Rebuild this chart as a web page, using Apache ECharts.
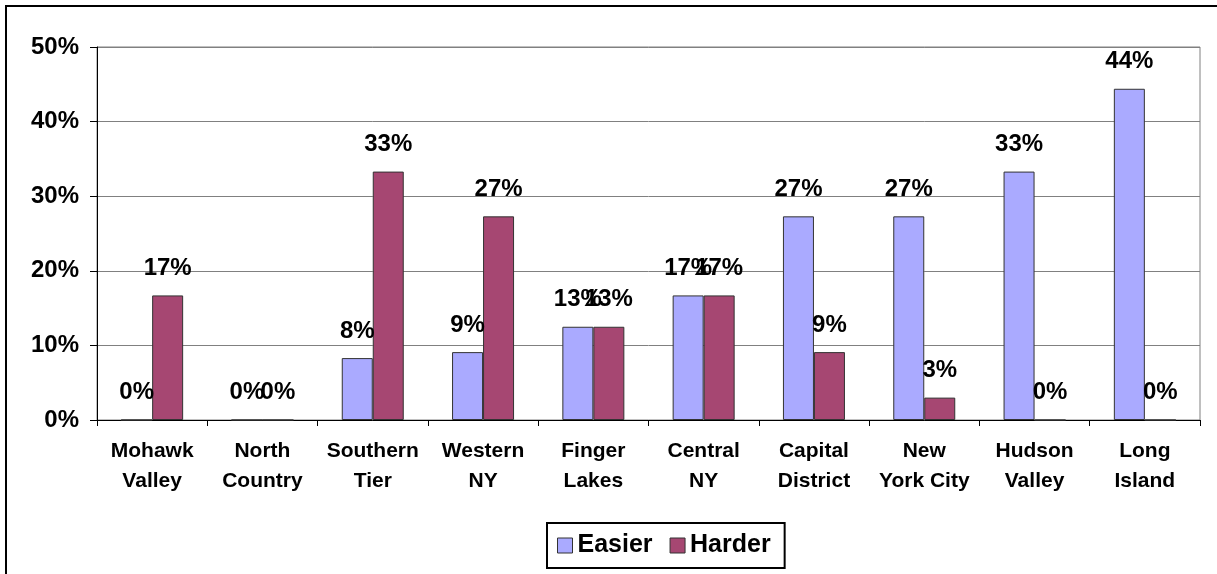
<!DOCTYPE html>
<html>
<head>
<meta charset="utf-8">
<script src="https://cdn.jsdelivr.net/npm/echarts@6/dist/echarts.min.js"></script>
<style>
  html, body { margin: 0; padding: 0; background: #fff; }
  #chart { width: 1217px; height: 574px; }
</style>
</head>
<body>
<div id="chart"></div>
<script>
// regions on the x axis
const regions = ["Mohawk\nValley", "North\nCountry", "Southern\nTier", "Western\nNY", "Finger\nLakes",
  "Central\nNY", "Capital\nDistrict", "New\nYork City", "Hudson\nValley", "Long\nIsland"];
// share of answers, in percent
const easier = [0, 0, 8.3, 9.1, 12.5, 16.7, 27.3, 27.3, 33.3, 44.4];
const harder = [16.7, 0, 33.3, 27.3, 12.5, 16.7, 9.1, 3.0, 0, 0];
const seriesNames = ["Easier", "Harder"];

const FONT = "Liberation Sans, Arial, sans-serif";

const chart = echarts.init(document.getElementById("chart"));

const barLabel = {
  show: true,
  position: "top",
  distance: 15,
  fontSize: 24,
  fontWeight: "bold",
  fontFamily: FONT,
  color: "#000",
  formatter: p => Math.round(p.value) + "%",
};

const options = {
  animation: false,
  backgroundColor: "#fff",
  graphic: [
    {
      type: "rect",
      shape: { x: 6, y: 6, width: 1400, height: 800 },
      style: { fill: "none", stroke: "#000", lineWidth: 2 },
      silent: true,
    },
  ],
  grid: {
    left: 97,
    right: 17,
    top: 47,
    bottom: 154,
    show: true,
    borderColor: "#808080",
    borderWidth: 1,
  },
  legend: {
    data: seriesNames,
    bottom: 6,
    left: 547,
    icon: "rect",
    itemWidth: 15,
    itemHeight: 15,
    itemGap: 17,
    padding: [10, 14, 10, 10],
    borderColor: "#000",
    borderWidth: 2,
    borderRadius: 0,
    itemStyle: { borderColor: "#333", borderWidth: 1 },
    textStyle: { fontSize: 25, fontWeight: "bold", fontFamily: FONT, color: "#000" },
  },
  xAxis: {
    type: "category",
    data: regions,
    axisLine: { lineStyle: { color: "#000", width: 1 } },
    axisTick: { show: true, length: 6, lineStyle: { color: "#000" } },
    axisLabel: {
      interval: 0,
      margin: 16,
      fontSize: 21,
      fontWeight: "bold",
      fontFamily: FONT,
      color: "#000",
      lineHeight: 30,
    },
  },
  yAxis: {
    type: "value",
    min: 0,
    max: 50,
    interval: 10,
    axisLine: { show: true, lineStyle: { color: "#000", width: 1 } },
    axisTick: { show: true, length: 7, lineStyle: { color: "#000" } },
    splitLine: { lineStyle: { color: "#808080", width: 1 } },
    axisLabel: {
      margin: 18,
      fontSize: 24,
      fontWeight: "bold",
      fontFamily: FONT,
      color: "#000",
      formatter: "{value}%",
    },
  },
  series: [
    {
      name: seriesNames[0],
      type: "bar",
      data: easier,
      barWidth: 31,
      barGap: "0%",
      itemStyle: { color: "#AAAAFF", borderColor: "#333", borderWidth: 1 },
      label: barLabel,
    },
    {
      name: seriesNames[1],
      type: "bar",
      data: harder,
      barWidth: 31,
      barGap: "0%",
      itemStyle: { color: "#A64772", borderColor: "#333", borderWidth: 1 },
      label: barLabel,
    },
  ],
};

chart.setOption(options);
</script>
</body>
</html>
